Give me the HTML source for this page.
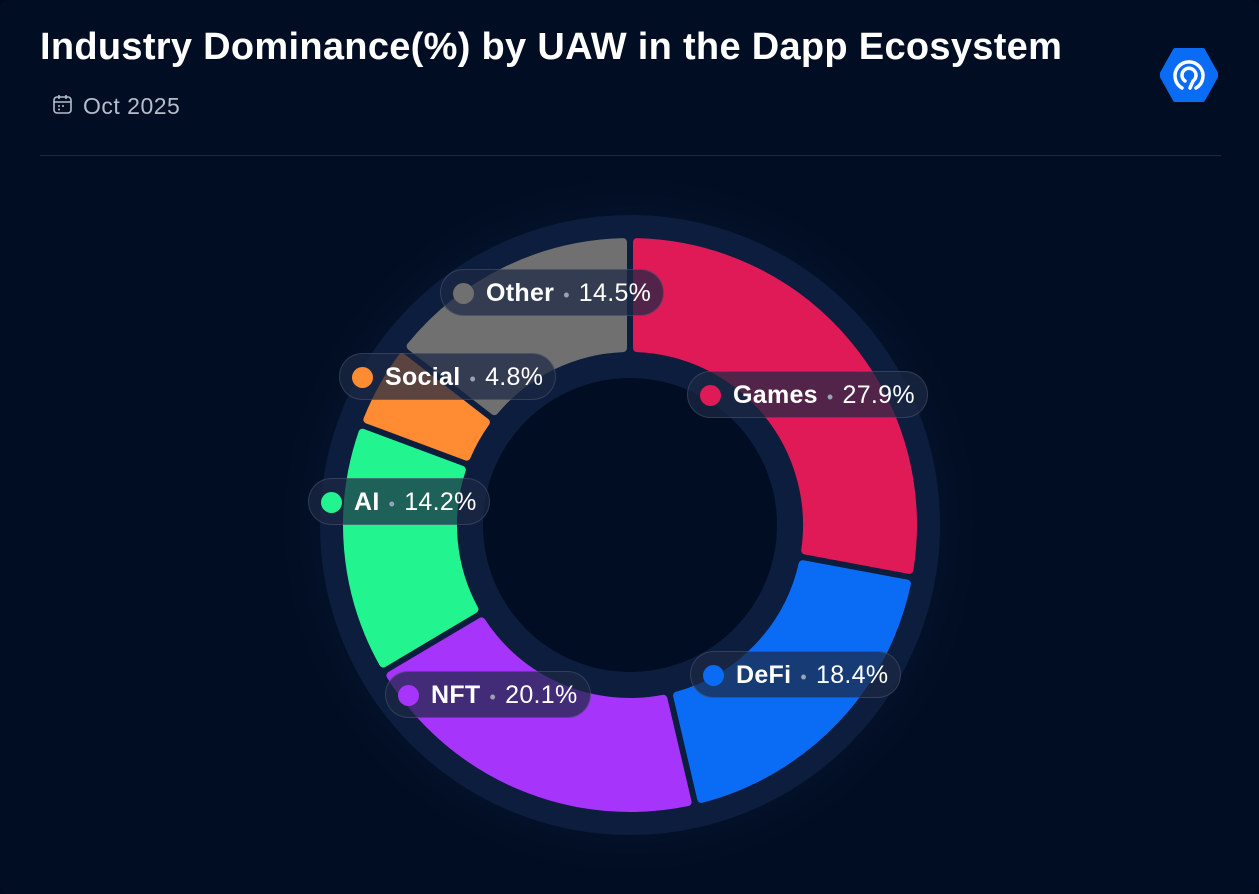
<!DOCTYPE html>
<html><head><meta charset="utf-8"><style>
body{margin:0;width:1259px;height:894px;background:#000a1c;overflow:hidden;font-family:"Liberation Sans",sans-serif;}
.card{position:absolute;left:0;top:0;width:1259px;height:894px;background:#010d22;border-radius:8px;}
h1{position:absolute;left:40px;top:26px;margin:0;font-size:38px;font-weight:bold;color:#fff;letter-spacing:0.3px;}
.date{position:absolute;left:83px;top:93px;color:#b6bdcc;font-size:23px;letter-spacing:0.5px;}
.hr{position:absolute;left:40px;top:155px;width:1181px;height:1px;background:#1c2940;}
.pill{position:absolute;height:47px;border-radius:24px;background:rgba(28,40,68,0.72);border:1px solid rgba(255,255,255,0.12);color:#fff;font-size:25px;line-height:46px;padding:0 12px 0 12px;white-space:nowrap;box-sizing:border-box;letter-spacing:0.3px;}
.pill i{display:inline-block;width:21px;height:21px;border-radius:50%;vertical-align:-3px;margin-right:12px;}
.pill b{font-weight:bold;}
.pill s{text-decoration:none;color:#9aa3b5;margin:0 9px;font-size:18px;}
</style></head><body>
<div class="card">
<h1>Industry Dominance(%) by UAW in the Dapp Ecosystem</h1>
<svg style="position:absolute;left:52px;top:94px" width="22" height="22" viewBox="0 0 22 22"><rect x="2" y="3" width="17" height="16" rx="3" fill="none" stroke="#b6bdcc" stroke-width="1.6"/><line x1="2" y1="8" x2="19" y2="8" stroke="#b6bdcc" stroke-width="1.6"/><line x1="7" y1="1" x2="7" y2="5" stroke="#b6bdcc" stroke-width="1.6"/><line x1="14" y1="1" x2="14" y2="5" stroke="#b6bdcc" stroke-width="1.6"/><circle cx="7" cy="12" r="1" fill="#b6bdcc"/><circle cx="11" cy="12" r="1" fill="#b6bdcc"/><circle cx="7" cy="15.5" r="1" fill="#b6bdcc"/></svg>
<div class="date">Oct 2025</div>
<svg style="position:absolute;left:1160px;top:48px" width="58" height="54" viewBox="0 0 58 54"><polygon points="15,2 43,2 57,27 43,52 15,52 1,27" fill="#0a6cf5" stroke="#0a6cf5" stroke-width="4" stroke-linejoin="round"/><path d="M22 40 A14 14 0 1 1 36 40" fill="none" stroke="#fff" stroke-width="3.5" stroke-linecap="round"/><path d="M25 33 A7 7 0 1 1 33 33 L30 40" fill="none" stroke="#fff" stroke-width="3.5" stroke-linecap="round"/></svg>
<div class="hr"></div>
<svg id="d" style="position:absolute;left:0;top:0" width="1259" height="894">
<defs><radialGradient id="g"><stop offset="0.8" stop-color="#061630"/><stop offset="1" stop-color="#010d22" stop-opacity="0"/></radialGradient></defs>
<circle cx="630" cy="525" r="360" fill="url(#g)"/>
<circle cx="630" cy="525" r="228" fill="none" stroke="#0c1d3e" stroke-width="164"/>
<circle cx="630" cy="525" r="147" fill="#010d22"/>
</svg>
<div class="pill" style="left:440px;top:269px"><i style="background:#707070"></i><b>Other</b><s>•</s>14.5%</div>
<div class="pill" style="left:339px;top:353px"><i style="background:#ff8c33"></i><b>Social</b><s>•</s>4.8%</div>
<div class="pill" style="left:687px;top:371px"><i style="background:#df1a57"></i><b>Games</b><s>•</s>27.9%</div>
<div class="pill" style="left:308px;top:478px"><i style="background:#22f58f"></i><b>AI</b><s>•</s>14.2%</div>
<div class="pill" style="left:690px;top:651px"><i style="background:#0a6cf5"></i><b>DeFi</b><s>•</s>18.4%</div>
<div class="pill" style="left:385px;top:671px"><i style="background:#a734fb"></i><b>NFT</b><s>•</s>20.1%</div>
</div>
<script>
var s=document.getElementById('d'),cx=630,cy=525,R=283,r=177;
var data=[[27.9,'#df1a57'],[18.4,'#0a6cf5'],[20.1,'#a734fb'],[14.2,'#22f58f'],[4.8,'#ff8c33'],[14.5,'#707070']];
var tot=99.9,a=0,gap=7;
function p(rad,ang){return (cx+rad*Math.sin(ang)).toFixed(1)+' '+(cy-rad*Math.cos(ang)).toFixed(1);}
data.forEach(function(d){var a0=a/tot*2*Math.PI,a1=(a+d[0])/tot*2*Math.PI;a+=d[0];
var go=gap/R,gi=gap/r;
var path='M'+p(R,a0+go)+' A'+R+' '+R+' 0 '+((a1-a0)>Math.PI?1:0)+' 1 '+p(R,a1-go)+' L'+p(r,a1-gi)+' A'+r+' '+r+' 0 '+((a1-a0)>Math.PI?1:0)+' 0 '+p(r,a0+gi)+'Z';
var e=document.createElementNS('http://www.w3.org/2000/svg','path');e.setAttribute('d',path);e.setAttribute('fill',d[1]);e.setAttribute('stroke',d[1]);e.setAttribute('stroke-width','8');e.setAttribute('stroke-linejoin','round');s.appendChild(e);});
</script>
</body></html>
